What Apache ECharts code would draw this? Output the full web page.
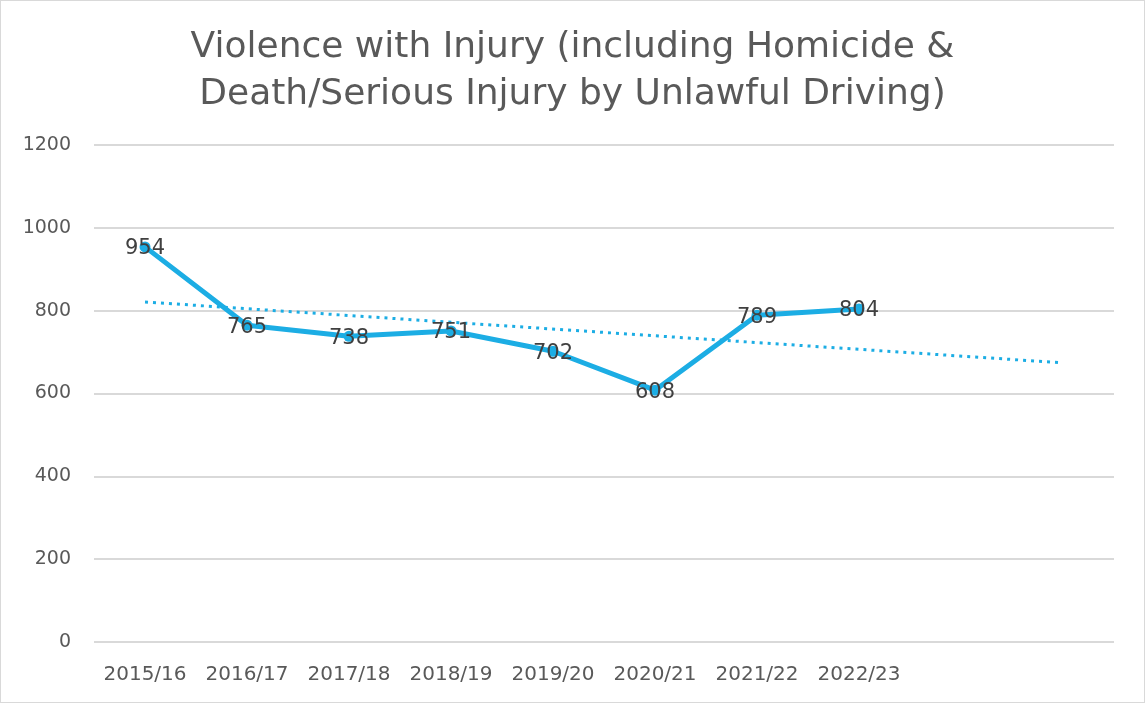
<!DOCTYPE html>
<html>
<head>
<meta charset="utf-8">
<script src="https://cdn.jsdelivr.net/npm/echarts@6/dist/echarts.min.js"></script>
<style>
  html, body { margin: 0; padding: 0; background: #fff; }
  #chart { width: 1143px; height: 701px; border: 1px solid #d9d9d9; }
</style>
</head>
<body>
<div id="chart"></div>
<script>
// 数据
const categories = ['2015/16', '2016/17', '2017/18', '2018/19', '2019/20', '2020/21', '2021/22', '2022/23', '', '']
const offences = [954, 765, 738, 751, 702, 608, 789, 804]
// 趋势线两端
const trendValues = [821, null, null, null, null, null, null, null, null, 674]
const yTicks = { min: 0, max: 1200, interval: 200 }

const chart = echarts.init(document.getElementById('chart'))

const font = '"DejaVu Sans", sans-serif'
const lineColor = '#1cade4'

chart.setOption({
  animation: false,
  title: {
    text: 'Violence with Injury (including Homicide &\nDeath/Serious Injury by Unlawful Driving)',
    left: 'center',
    top: 18,
    textStyle: {
      fontFamily: font,
      fontWeight: 'normal',
      fontSize: 36,
      lineHeight: 47,
      color: '#595959',
    },
  },
  grid: { left: 93, right: 30, top: 144, bottom: 60 },
  xAxis: {
    type: 'category',
    data: categories,
    boundaryGap: true,
    axisLine: { show: false },
    axisTick: { show: false },
    axisLabel: {
      interval: 0,
      margin: 23,
      fontFamily: font,
      fontSize: 20,
      color: '#595959',
    },
  },
  yAxis: {
    type: 'value',
    min: yTicks.min,
    max: yTicks.max,
    interval: yTicks.interval,
    axisLine: { show: false },
    axisTick: { show: false },
    splitLine: { lineStyle: { color: '#d9d9d9', width: 2 } },
    axisLabel: {
      margin: 23,
      formatter: v => String(v),
      fontFamily: font,
      fontSize: 19,
      color: '#595959',
    },
  },
  series: [
    {
      type: 'line',
      data: offences,
      symbol: 'circle',
      symbolSize: 11,
      itemStyle: { color: lineColor },
      lineStyle: { color: lineColor, width: 5 },
      label: {
        show: true,
        position: 'inside',
        offset: [0, 2],
        fontFamily: font,
        fontSize: 21,
        color: '#404040',
      },
      z: 3,
    },
    {
      type: 'line',
      data: trendValues,
      connectNulls: true,
      symbol: 'none',
      lineStyle: { color: lineColor, width: 3, type: [3, 5] },
      z: 2,
    },
  ],
})
</script>
</body>
</html>
